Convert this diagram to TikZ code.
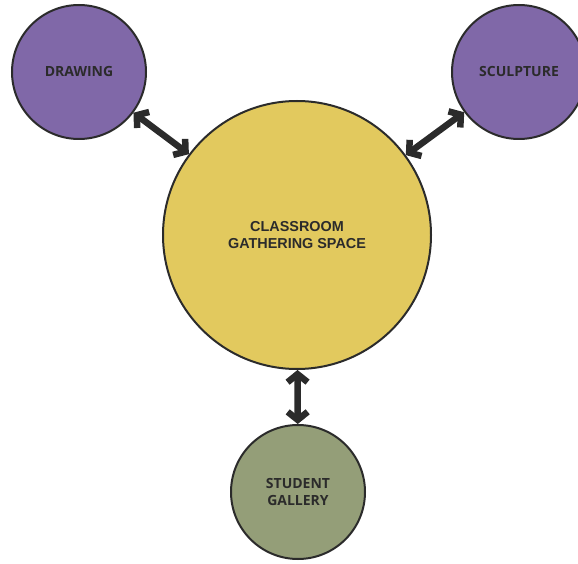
\documentclass[tikz,border=0pt]{standalone}
\usepackage{fontspec}
\setsansfont{Open Sans}
\newfontfamily\hubfont{Liberation Sans}
\usepackage{xcolor}
\usetikzlibrary{arrows.meta}

\definecolor{artpurple}{RGB}{128,104,168}
\definecolor{hubyellow}{RGB}{226,201,94}
\definecolor{gallerygreen}{RGB}{148,158,120}
\definecolor{inkgray}{RGB}{43,43,43}

\begin{document}
\begin{tikzpicture}[
    x=1pt, y=1pt,
    room/.style={circle, draw=inkgray, line width=2pt, inner sep=0pt,
                 align=center, text=inkgray,
                 font=\sffamily\bfseries\fontsize{14}{17}\selectfont},
    hub/.style={room, fill=hubyellow, minimum size=268pt,
                font=\hubfont\bfseries\fontsize{14.4}{17}\selectfont},
    studio/.style={room, fill=artpurple, minimum size=134pt},
    showroom/.style={room, fill=gallerygreen, minimum size=134pt},
    link/.style={{Straight Barb[length=8pt,width=20pt]}-{Straight Barb[length=8pt,width=20pt]},
                 line width=6.5pt, draw=inkgray}
]
\useasboundingbox (0,0) rectangle (578,563);

\node[hub] (classroom) at (297,328) {CLASSROOM\\GATHERING SPACE};
\node[studio] (drawing) at (79,491) {DRAWING};
\node[studio] (sculpture) at (519,491) {SCULPTURE};
\node[showroom] (gallery) at (298,71) {STUDENT\\GALLERY};

\draw[link] (drawing) -- (classroom);
\draw[link] (sculpture) -- (classroom);
\draw[link] (gallery) -- (classroom);
\end{tikzpicture}
\end{document}
